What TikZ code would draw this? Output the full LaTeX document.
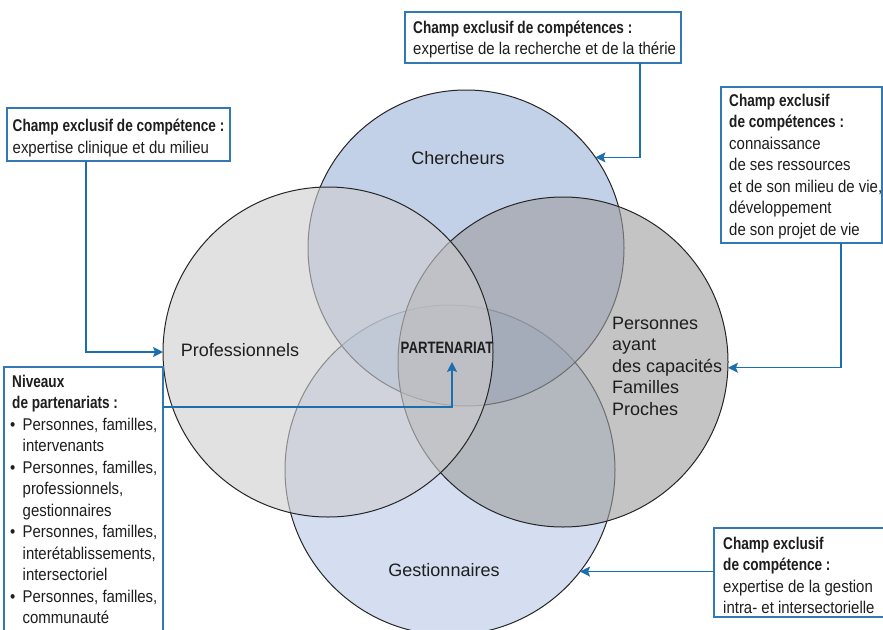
\documentclass[tikz,border=0pt]{standalone}
\usepackage{fontspec}
\setmainfont{Liberation Sans}
\newfontfamily\condf{Liberation Sans}[FakeStretch=0.88,BoldFeatures={FakeStretch=0.8}]
\usetikzlibrary{arrows.meta}
\definecolor{chercol}{RGB}{155,179,217}
\definecolor{gestcol}{RGB}{185,201,230}
\definecolor{perscol}{RGB}{157,157,158}
\definecolor{profcol}{RGB}{205,205,206}
\definecolor{bluel}{RGB}{27,111,174}
\definecolor{boxc}{RGB}{50,120,180}
\definecolor{txt}{RGB}{30,30,30}
\begin{document}
\begin{tikzpicture}[x=1pt,y=-1pt,
 venn/.style={circle, inner sep=0pt, outer sep=0pt, draw=black!85, line width=1pt, fill opacity=0.6},
 frame/.style={draw=boxc, line width=1.2pt, inner sep=0pt, outer sep=0pt, anchor=north west},
 boxtext/.style={anchor=north west, inner sep=0pt, align=left, text=txt, font=\condf\fontsize{17}{21.5}\selectfont},
 lbl/.style={text=txt, font=\fontsize{18}{21.5}\selectfont, inner sep=0pt, anchor=base},
 conn/.style={draw=bluel, line width=1.3pt, -{Stealth[length=10pt,width=10pt,inset=2pt]}},
]
\clip (0,0) rectangle (883,629);
\fill[white] (0,0) rectangle (883,629);

% circles
\node[venn, fill=gestcol, minimum size=330pt] (gest) at (450,470) {};
\node[venn, fill=chercol, minimum size=316pt] (cher) at (466,248) {};
\node[venn, fill=perscol, minimum size=330pt] (pers) at (563,362) {};
\node[venn, fill=profcol, minimum size=330pt] (prof) at (328,352) {};

% frames
\node[frame, minimum width=276pt, minimum height=51pt] (topbox) at (405,12) {};
\node[frame, minimum width=223pt, minimum height=53pt] (leftbox) at (7,108) {};
\node[frame, minimum width=161pt, minimum height=156pt] (rightbox) at (721,87) {};
\node[frame, minimum width=159pt, minimum height=280pt] (blbox) at (4,367) {};
\node[frame, minimum width=185pt, minimum height=89pt] (brbox) at (714,528) {};

% helper coordinates
\coordinate (x640) at (640,0);
\coordinate (x86) at (86,0);
\coordinate (x841) at (841,0);
\coordinate (ylevel) at (0,407);
\coordinate (parttip) at (452,362);

% connectors
\draw[conn] (topbox.south -| x640) |- (cher.35);
\draw[conn] (leftbox.south -| x86) |- (prof.180);
\draw[conn] (rightbox.south -| x841) |- (pers.358);
\draw[conn] (gest.322.5 -| brbox.west) -- (gest.322.5);
\draw[conn] (blbox.east |- ylevel) -| (parttip);

% box texts
\node[boxtext] (toptext) at (413,18) {\strut\textbf{Champ exclusif de compétences :}\\expertise de la recherche et de la thérie};
\node[boxtext] (lefttext) at (12.5,116.5) {\strut\textbf{Champ exclusif de compétence :}\\expertise clinique et du milieu};
\node[boxtext] (righttext) at (729,91) {\strut\textbf{Champ exclusif}\\\textbf{de compétences :}\\connaissance\\de ses ressources\\et de son milieu de vie,\\développement\\de son projet de vie};
\node[boxtext] (bltext) at (10,372) {\strut\hspace*{2pt}\textbf{Niveaux}\\\hspace*{2pt}\textbf{de partenariats :}\\
\makebox[12.5pt][l]{•}Personnes, familles,\\\hspace*{12.5pt}intervenants\\
\makebox[12.5pt][l]{•}Personnes, familles,\\\hspace*{12.5pt}professionnels,\\\hspace*{12.5pt}gestionnaires\\
\makebox[12.5pt][l]{•}Personnes, familles,\\\hspace*{12.5pt}interétablissements,\\\hspace*{12.5pt}intersectoriel\\
\makebox[12.5pt][l]{•}Personnes, familles,\\\hspace*{12.5pt}communauté};
\node[boxtext] (brtext) at (723,534) {\strut\textbf{Champ exclusif}\\\textbf{de compétence :}\\expertise de la gestion\\intra- et intersectorielle};

% circle labels
\node[lbl] (lcher) at (458,164) {Chercheurs};
\node[lbl] (lprof) at (240,356) {Professionnels};
\node[lbl] (lgest) at (444,576) {Gestionnaires};
\node[lbl, anchor=north west, align=left] (lpers) at (612,314) {\strut Personnes\\ayant\\des capacités\\Familles\\Proches};
\node[lbl, font=\condf\bfseries\fontsize{16.5}{18}\selectfont] (lpart) at (447,353) {PARTENARIAT};
\end{tikzpicture}
\end{document}
